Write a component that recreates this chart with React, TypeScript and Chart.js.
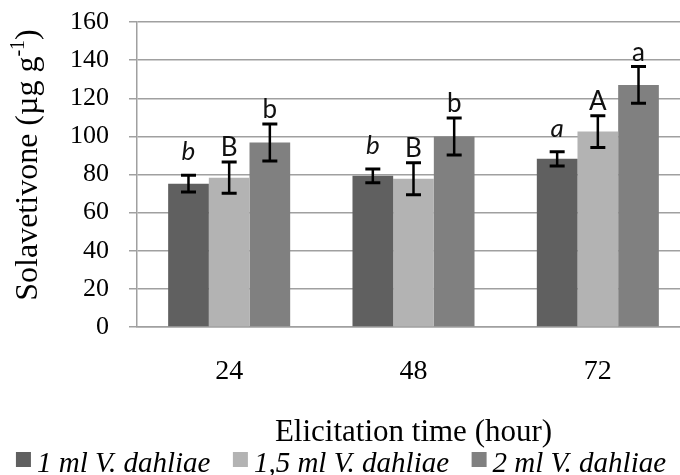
import React, { useEffect, useRef } from "react";
import { Chart, registerables } from "chart.js";

Chart.register(...registerables);

const categories = ["24", "48", "72"];
const seriesNames = ["1 ml V. dahliae", "1,5 ml V. dahliae", "2 ml V. dahliae"];
const dose1 = [75.2, 79.3, 88.2];
const dose1Err = [4.4, 3.6, 3.8];
const dose15 = [78.3, 77.8, 102.5];
const dose15Err = [8.2, 8.4, 8.3];
const dose2 = [96.8, 99.9, 127];
const dose2Err = [9.7, 9.7, 9.6];
const letters1 = ["b", "b", "a"];
const letters15 = ["B", "B", "A"];
const letters2 = ["b", "b", "a"];
const yTicks = [0, 20, 40, 60, 80, 100, 120, 140, 160];

const colors = ["#606060", "#b3b3b3", "#808080"];
const errs = [dose1Err, dose15Err, dose2Err];
const letterSets = [letters1, letters15, letters2];
const letterFonts = ["italic 26px Lato", "26px Lato", "26px Lato"];
const letterGaps = [15, 6, 6];

const errorAndLetters = {
  id: "errorAndLetters",
  afterDatasetsDraw(chart: any) {
    const ctx = chart.ctx;
    const y = chart.scales.y;
    chart.data.datasets.forEach((ds: any, i: number) => {
      const meta = chart.getDatasetMeta(i);
      meta.data.forEach((el: any, j: number) => {
        const v = ds.data[j];
        const e = errs[i][j];
        const yt = y.getPixelForValue(v + e);
        const yb = y.getPixelForValue(v - e);
        const x = el.x;
        ctx.save();
        ctx.strokeStyle = "#000";
        ctx.lineWidth = 2.5;
        ctx.beginPath();
        ctx.moveTo(x, yt);
        ctx.lineTo(x, yb);
        ctx.stroke();
        ctx.lineWidth = 3;
        ctx.beginPath();
        ctx.moveTo(x - 7.5, yt);
        ctx.lineTo(x + 7.5, yt);
        ctx.moveTo(x - 7.5, yb);
        ctx.lineTo(x + 7.5, yb);
        ctx.stroke();
        ctx.fillStyle = "#111";
        ctx.font = letterFonts[i];
        ctx.textAlign = "center";
        ctx.textBaseline = "alphabetic";
        ctx.fillText(letterSets[i][j], x, yt - letterGaps[i]);
        ctx.restore();
      });
    });
  },
};

const yTitle = {
  id: "yTitle",
  afterDraw(chart: any) {
    const ctx = chart.ctx;
    ctx.save();
    ctx.translate(29, 165);
    ctx.rotate(-Math.PI / 2);
    ctx.fillStyle = "#000";
    ctx.textBaseline = "middle";
    const big = "32px 'Liberation Serif'";
    const small = "20px 'Liberation Serif'";
    const p1 = "Solavetivone (µg g";
    const p2 = "-1";
    const p3 = ")";
    ctx.font = big;
    const w1 = ctx.measureText(p1).width;
    const w3 = ctx.measureText(p3).width;
    ctx.font = small;
    const w2 = ctx.measureText(p2).width;
    const total = w1 + w2 + w3;
    let xx = -total / 2;
    ctx.textAlign = "left";
    ctx.font = big;
    ctx.fillText(p1, xx, 0);
    xx += w1;
    ctx.font = small;
    ctx.fillText(p2, xx, -10);
    xx += w2;
    ctx.font = big;
    ctx.fillText(p3, xx, 0);
    ctx.restore();
  },
};

const customLegend = {
  id: "customLegend",
  afterDraw(chart: any) {
    const ctx = chart.ctx;
    const box = 15;
    const gapBoxText = 6;
    const gapItems = 22.5;
    ctx.save();
    ctx.font = "italic 29px 'Liberation Serif'";
    const widths = chart.data.datasets.map((ds: any) => ctx.measureText(ds.label).width);
    const total =
      widths.reduce((a: number, w: number) => a + w + box + gapBoxText, 0) +
      gapItems * (widths.length - 1);
    let x = 341 - total / 2;
    const baseline = 472;
    chart.data.datasets.forEach((ds: any, i: number) => {
      ctx.fillStyle = ds.backgroundColor;
      ctx.fillRect(x, 452, box, box);
      x += box + gapBoxText;
      ctx.fillStyle = "#000";
      ctx.textAlign = "left";
      ctx.textBaseline = "alphabetic";
      ctx.fillText(ds.label, x, baseline);
      x += widths[i] + gapItems;
    });
    ctx.restore();
  },
};

export default function App() {
  const ref = useRef<HTMLCanvasElement>(null);
  useEffect(() => {
    if (!ref.current) return;
    const chart = new Chart(ref.current, {
      type: "bar",
      data: {
        labels: categories,
        datasets: [dose1, dose15, dose2].map((d, i) => ({
          label: seriesNames[i],
          data: d,
          backgroundColor: colors[i],
          borderWidth: 0,
          categoryPercentage: 0.662,
          barPercentage: 1,
        })),
      },
      options: {
        responsive: false,
        animation: false,
        layout: { padding: { top: 22, left: 50, right: 0, bottom: 24 } },
        plugins: {
          legend: { display: false },
          tooltip: { enabled: false },
        },
        scales: {
          x: {
            afterFit: (s: any) => {
              s.height = 124;
            },
            grid: { display: false },
            border: { display: true, color: "#a0a0a0", width: 1.5 },
            ticks: {
              color: "#000",
              padding: 20,
              font: { family: "'Liberation Serif'", size: 28 },
            },
            title: {
              display: true,
              text: "Elicitation time (hour)",
              color: "#000",
              font: { family: "'Liberation Serif'", size: 31 },
              padding: { top: 0, bottom: 0 },
            },
          },
          y: {
            min: 0,
            max: 160,
            afterBuildTicks: (s: any) => {
              s.ticks = yTicks.map((v) => ({ value: v }));
            },
            afterFit: (s: any) => {
              s.paddingTop = 0;
              s.paddingBottom = 0;
            },
            grid: { color: "#a0a0a0", lineWidth: 1.5, tickLength: 8 },
            border: { display: true, color: "#a0a0a0", width: 1.5 },
            ticks: {
              color: "#000",
              padding: 20,
              autoSkip: false,
              font: { family: "'Liberation Serif'", size: 26 },
            },
          },
        },
      },
      plugins: [errorAndLetters, yTitle, customLegend],
    });
    return () => chart.destroy();
  }, []);
  return (
    <div style={{ position: "absolute", left: 0, top: 0, width: 680, height: 475, overflow: "hidden" }}>
      <canvas ref={ref} width={690} height={475} style={{ width: 690, height: 475 }} />
    </div>
  );
}
